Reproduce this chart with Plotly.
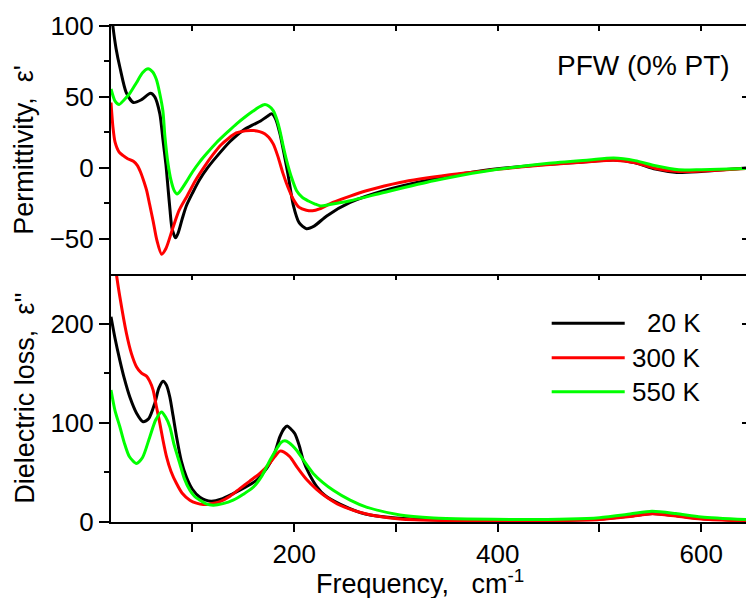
import plotly.graph_objects as go

# ---------------- data ----------------
# Top panel: real part of permittivity, eps'
x_re_20 = [20, 22, 25, 29, 35, 42, 50, 58.8, 63, 68, 71, 74, 76, 78, 80, 83.5, 86, 90, 94, 100, 107, 115,
           124, 137, 150, 160, 167, 173, 178, 182, 186, 190, 194, 199, 205, 212, 220, 232, 255, 288, 337,
           386, 432, 480, 514, 535, 555, 576, 600, 644]
y_re_20 = [112, 99, 84, 70, 53, 46, 48, 52.5, 50, 38, 20, 2, -14, -30, -43, -49.5, -46, -36, -27, -18, -8.5,
           0, 8, 18.5, 26.5, 30.5, 33, 36, 38, 34, 24, 10, -5, -26, -39, -43, -41, -34, -24.5, -16.3, -8,
           -2, 1.4, 3.8, 5.4, 3.5, -1, -3.3, -2.6, -0.2]

x_re_300 = [20, 22, 24, 28, 32, 36, 42, 46, 49, 52, 55, 58, 61.5, 65, 69.7, 74, 81, 87, 94, 103, 112,
            120, 128, 136, 143, 152, 160, 166, 171, 175, 179.4, 184, 189, 194, 199, 205, 212, 218, 225,
            238, 255, 271, 304, 353, 402, 448, 490, 514, 535, 555, 578, 600, 644]
y_re_300 = [46, 28, 18, 11, 8.5, 6.5, 4.5, 1.5, -3, -9, -16, -26, -38, -51, -61, -57, -42, -30, -21, -9, 1,
            9, 16, 21, 24.5, 26, 26.2, 25.5, 24, 21.5, 16.8, 8, -4, -14, -22, -28, -30, -30.4, -29,
            -24.5, -20, -16.3, -10.4, -5, -1, 2.1, 4.2, 5.2, 3.5, -0.5, -2.7, -2.3, -0.5]

x_re_550 = [20, 24, 28, 33, 38, 45, 51, 56.5, 61, 64.7, 68, 71, 73, 76, 79, 82, 85, 89, 94, 100, 107, 114,
            124, 135, 143.4, 152, 159.7, 166, 171.2, 175, 179.4, 183, 186, 189, 192.6, 197, 202.4, 208,
            214, 220, 226, 235, 255, 288, 337, 386, 448, 490, 514, 535, 555, 578, 600, 644]
y_re_550 = [55.6, 47, 44.6, 48, 52, 60, 67, 69.8, 67.5, 62, 52, 40, 22, 3, -9, -16, -18.6, -15.5, -10, -3,
            4, 10, 18, 25.5, 31, 36, 40, 43, 44.6, 43.5, 40.3, 34, 26, 16, 5, -6, -16.3, -21, -23.5,
            -25.5, -27, -26, -23.3, -17.5, -9.2, -2.6, 3, 5.5, 6.8, 5, 1.4, -1.5, -1.4, -0.5]

# Bottom panel: dielectric loss, eps''
x_im_20 = [20, 24, 28.7, 33, 38.5, 45, 51.6, 57, 63, 67, 71.2, 74.5, 77.8, 81, 84.4, 89, 94.2, 100, 107.3,
           113, 118.8, 128, 140, 152, 163, 170, 176, 181, 186, 190, 193.2, 196.5, 200.7, 205, 209, 215,
           222, 230, 245, 270, 300, 340, 400, 450, 500, 530, 552, 575, 600, 644]
y_im_20 = [207, 185, 163, 145, 126, 110, 101, 104, 119.6, 135, 142, 138, 126, 107, 86, 62, 45, 33, 25,
           22, 21, 23, 28.6, 35, 42, 50, 59, 70, 86, 94, 96.7, 94, 89, 77, 62, 48, 36, 27, 18, 8, 4, 2,
           1.2, 1.5, 3, 6, 8.5, 6.5, 3.5, 1.5]

x_im_300 = [20, 24.7, 28.7, 35.2, 40, 45, 50, 54.9, 58, 61.4, 64.5, 68, 71, 74.6, 79, 84.4, 90, 97.5, 104,
            110.6, 118, 127, 137, 146.6, 156, 166.3, 175, 181, 186, 190, 195.8, 203, 212, 222, 232, 245,
            271, 304, 350, 400, 450, 500, 530, 552, 575, 600, 644]
y_im_300 = [290, 254, 227, 190, 170, 156.6, 150, 147, 142, 133, 117, 99.4, 83, 65.7, 51, 38.8, 29, 22, 19,
            17.6, 18.5, 20.5, 26, 33.7, 41, 49, 58, 66, 71.4, 70.5, 65.7, 55, 43, 33, 25, 17,
            8, 3, 1.5, 1, 1.3, 2.5, 5.5, 8.2, 6, 3, 1]

x_im_550 = [20, 24, 28.7, 33, 38, 45, 51, 58.2, 64, 69.7, 73.5, 77.8, 82, 87.6, 92, 97.5, 102, 107.3, 113,
            120.4, 130, 140, 150, 159.7, 168, 176.1, 183, 187, 190.9, 195, 202.4, 210, 218.7, 228, 238.4,
            255, 271, 304, 337, 370, 420, 470, 500, 530, 551.5, 575, 600, 644]
y_im_550 = [133, 112, 96, 80, 66, 59, 65, 86, 103, 111, 106, 96, 78, 59, 44, 32, 26, 22, 18.5,
            17, 18.5, 22, 28, 35, 46, 62, 74, 80, 81.8, 80, 72.4, 61, 49, 40, 32,
            22, 15, 7, 4, 3, 2.5, 3, 4.4, 8, 10.8, 8.5, 5, 2.4]

series_names = ["20 K", "300 K", "550 K"]
series_colors = ["#000000", "#ff0000", "#00ff00"]

x_range = [20, 644]
re_range = [-75, 100]
im_range = [0, 250]
x_tickvals = [200, 400, 600]
x_minor = [100, 300, 500]
re_tickvals = [-50, 0, 50, 100]
re_minor = [-25, 25, 75]
im_tickvals = [0, 100, 200]
im_minor = [50, 150]

# ---------------- figure ----------------
FONT = "Liberation Sans, Arial, sans-serif"
fig = go.Figure()

re_data = [(x_re_20, y_re_20), (x_re_300, y_re_300), (x_re_550, y_re_550)]
im_data = [(x_im_20, y_im_20), (x_im_300, y_im_300), (x_im_550, y_im_550)]

for (xs, ys), name, col in zip(re_data, series_names, series_colors):
    fig.add_trace(go.Scatter(x=xs, y=ys, mode="lines", name=name, xaxis="x2", yaxis="y2",
                             line=dict(color=col, width=3, shape="spline", smoothing=0.7),
                             showlegend=False, cliponaxis=True))
for (xs, ys), name, col in zip(im_data, series_names, series_colors):
    fig.add_trace(go.Scatter(x=xs, y=ys, mode="lines", name=name, xaxis="x", yaxis="y",
                             line=dict(color=col, width=3, shape="spline", smoothing=0.7),
                             showlegend=False, cliponaxis=True))

# helper empty traces so that decorative mirror axes are drawn
for xa, ya in [("x3", "y2"), ("x2", "y3"), ("x", "y4")]:
    fig.add_trace(go.Scatter(x=[None], y=[None], xaxis=xa, yaxis=ya, showlegend=False,
                             hoverinfo="skip", mode="lines"))

tickfont = dict(family=FONT, size=26, color="black")
titlefont = dict(family=FONT, size=27, color="black")
NB = "\u00a0"

def minor_ticks(vals, length, direction="outside"):
    return dict(tickvals=vals, ticks=direction, ticklen=length, tickwidth=2, tickcolor="black",
                showgrid=False)

fig.update_layout(
    width=746, height=598,
    margin=dict(l=111, r=0, t=26, b=76),
    paper_bgcolor="white", plot_bgcolor="white",
    showlegend=False,
    xaxis=dict(domain=[0, 1], anchor="y", range=x_range, showline=True, linecolor="black", linewidth=2,
               ticks="outside", ticklen=8, tickwidth=2, tickcolor="black",
               tickvals=x_tickvals, tickfont=tickfont, minor=minor_ticks(x_minor, 8),
               showgrid=False, zeroline=False),
    xaxis2=dict(domain=[0, 1], anchor="y2", range=x_range, showline=True, linecolor="black", linewidth=2,
                ticks="outside", ticklen=4, tickwidth=2, tickcolor="black", tickvals=x_tickvals,
                minor=minor_ticks(x_minor, 4),
                showticklabels=False, showgrid=False, zeroline=False),
    xaxis3=dict(overlaying="x2", anchor="y2", side="top", range=x_range, showline=True, linecolor="black",
                linewidth=2, ticks="inside", ticklen=5, tickwidth=2, tickcolor="black",
                tickvals=x_tickvals, minor=minor_ticks(x_minor, 5, "inside"),
                showticklabels=False, showgrid=False, zeroline=False),
    yaxis=dict(domain=[0, 0.5], anchor="x", range=im_range, showline=True, linecolor="black", linewidth=2,
               ticks="outside", ticklen=10, tickwidth=2, tickcolor="black", tickvals=im_tickvals,
               tickfont=tickfont, showgrid=False, zeroline=False,
               minor=minor_ticks(im_minor, 5),
               title=dict(text="Dielectric loss," + NB * 2 + "\u03b5''", font=titlefont, standoff=8)),
    yaxis2=dict(domain=[0.5, 1], anchor="x2", range=re_range, showline=True, linecolor="black", linewidth=2,
                ticks="outside", ticklen=10, tickwidth=2, tickcolor="black", tickvals=re_tickvals,
                tickfont=tickfont, showgrid=False, zeroline=False,
                minor=minor_ticks(re_minor, 5),
                title=dict(text="Permittivity," + NB * 2 + "\u03b5'", font=titlefont, standoff=8)),
    yaxis3=dict(overlaying="y2", anchor="x2", side="right", range=re_range, showline=False,
                ticks="inside", ticklen=4, tickwidth=2, tickcolor="black", tickvals=re_tickvals,
                showticklabels=False, showgrid=False, zeroline=False),
    yaxis4=dict(overlaying="y", anchor="x", side="right", range=im_range, showline=False,
                ticks="inside", ticklen=4, tickwidth=2, tickcolor="black", tickvals=im_tickvals,
                showticklabels=False, showgrid=False, zeroline=False),
)

# x-axis title (placed as an annotation to match the reference position)
fig.add_annotation(text="Frequency," + NB * 3 + "cm<sup>-1</sup>", xref="paper", yref="paper",
                   x=0.487, y=-0.121, xanchor="center", yanchor="middle", showarrow=False,
                   font=titlefont)

# panel label
fig.add_annotation(text="PFW (0% PT)", xref="paper", yref="paper", x=0.838, y=0.921,
                   xanchor="center", yanchor="middle", showarrow=False,
                   font=dict(family=FONT, size=28, color="black"))

# manual legend (lines + right-aligned labels) in the lower panel
leg_y = [0.4006, 0.3313, 0.2627]
for name, col, ly in zip(series_names, series_colors, leg_y):
    fig.add_shape(type="line", xref="paper", yref="paper", x0=0.694, x1=0.809, y0=ly, y1=ly,
                  line=dict(color=col, width=3))
    fig.add_annotation(text=name, xref="paper", yref="paper", x=0.932, y=ly, xanchor="right",
                       yanchor="middle", showarrow=False, font=dict(family=FONT, size=26, color="black"))

fig.write_html("out.html")
